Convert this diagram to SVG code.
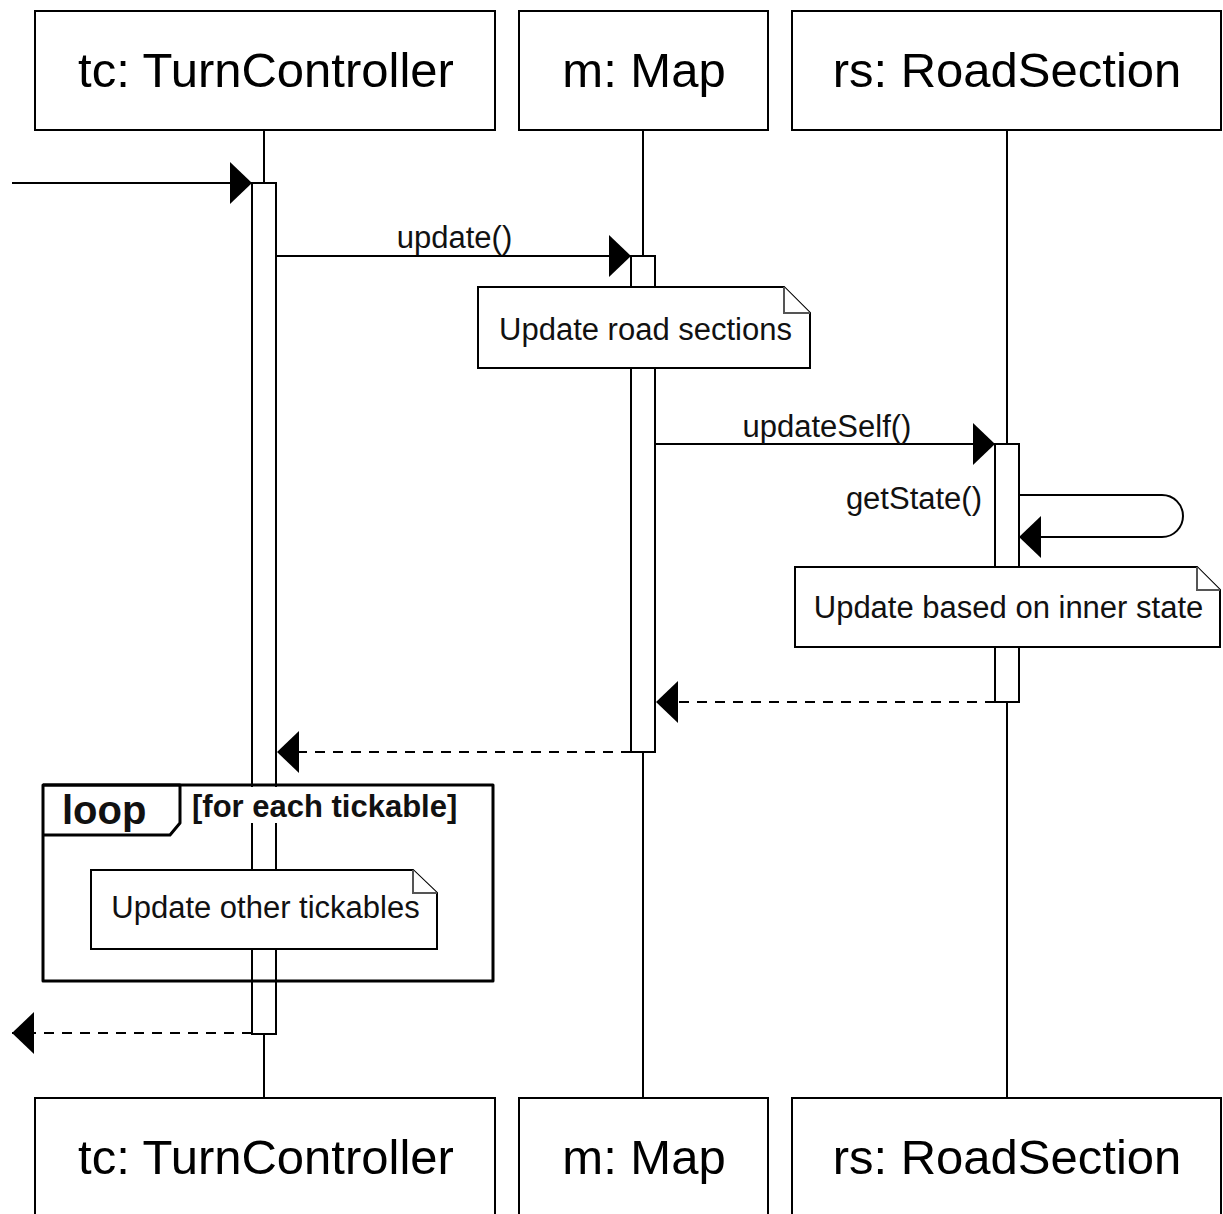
<svg xmlns="http://www.w3.org/2000/svg" width="1223" height="1214" viewBox="0 0 1223 1214">
<defs>
<style>
.box{fill:#fff;stroke:#000;stroke-width:2}
.life{stroke:#000;stroke-width:2;fill:none}
.act{fill:#fff;stroke:#000;stroke-width:2}
.note{fill:#fff;stroke:#000;stroke-width:2}
.fold{fill:#fff;stroke:#555;stroke-width:2}
.title{font-family:"Liberation Sans",Arial,sans-serif;font-size:49px;text-anchor:middle;fill:#000}
.lbl{font-family:"Liberation Sans",Arial,sans-serif;font-size:31px;fill:#111}
.mid{text-anchor:middle}
.bold{font-weight:bold}
.big{font-size:40px}
.msg{stroke:#000;stroke-width:2;fill:none}
.ret{stroke:#000;stroke-width:2;fill:none;stroke-dasharray:10 8}
.frame{fill:none;stroke:#000;stroke-width:3;stroke-linejoin:round}
</style>
<marker id="arrow" markerUnits="userSpaceOnUse" markerWidth="22" markerHeight="42" refX="22" refY="21" orient="auto" overflow="visible">
<path d="M0,0 L22,21 L0,42 Z" fill="#000" stroke="none"/>
</marker>
</defs>
<rect x="0" y="0" width="1223" height="1214" fill="#fff"/>

<g id="lifeline-tc">
<line class="life" x1="264" y1="130" x2="264" y2="1098"/>
<rect class="box" x="35" y="11" width="460" height="119"/>
<text class="title" x="266" y="87">tc: TurnController</text>
<rect class="box" x="35" y="1098" width="460" height="119"/>
<text class="title" x="266" y="1174">tc: TurnController</text>
</g>
<g id="lifeline-m">
<line class="life" x1="643" y1="130" x2="643" y2="1098"/>
<rect class="box" x="519" y="11" width="249" height="119"/>
<text class="title" x="644" y="87">m: Map</text>
<rect class="box" x="519" y="1098" width="249" height="119"/>
<text class="title" x="644" y="1174">m: Map</text>
</g>
<g id="lifeline-rs">
<line class="life" x1="1007" y1="130" x2="1007" y2="1098"/>
<rect class="box" x="792" y="11" width="429" height="119"/>
<text class="title" x="1007" y="87">rs: RoadSection</text>
<rect class="box" x="792" y="1098" width="429" height="119"/>
<text class="title" x="1007" y="1174">rs: RoadSection</text>
</g>

<g id="activation-tc"><rect class="act" x="252" y="183" width="24" height="851"/></g>
<g id="activation-m"><rect class="act" x="631" y="256" width="24" height="496"/></g>
<g id="activation-rs"><rect class="act" x="995" y="444" width="24" height="258"/></g>

<g id="connectors">
<path class="msg" d="M12,183 H252" marker-end="url(#arrow)"/>
<path class="msg" d="M276,256 H631" marker-end="url(#arrow)"/>
<text class="lbl mid" x="454.5" y="248">update()</text>
<path class="msg" d="M655,444 H995" marker-end="url(#arrow)"/>
<text class="lbl mid" x="827" y="437">updateSelf()</text>
<path class="msg" d="M1019,495 H1162 A21,21 0 0 1 1162,537 H1019" marker-end="url(#arrow)"/>
<text class="lbl" x="982" y="509" text-anchor="end">getState()</text>
<path class="ret" d="M995,702 H656" marker-end="url(#arrow)"/>
<path class="ret" d="M631,752 H277" marker-end="url(#arrow)"/>
<path class="ret" d="M252,1033 H12" marker-end="url(#arrow)"/>
</g>

<g id="note-road">
<path class="note" d="M478,287 H784 L810,313 V368 H478 Z"/>
<path class="fold" d="M784,287 V313 H810"/>
<text class="lbl mid" x="645.5" y="340">Update road sections</text>
</g>
<g id="note-inner">
<path class="note" d="M795,567 H1197 L1220,590 V647 H795 Z"/>
<path class="fold" d="M1197,567 V590 H1220"/>
<text class="lbl mid" x="1008.5" y="618">Update based on inner state</text>
</g>

<g id="loop-frame">
<rect x="188" y="787" width="272" height="36" fill="#fff"/>
<rect class="frame" x="43" y="785" width="450" height="196"/>
<path class="frame" d="M43,785 H180 V823 L170,835 H43"/>
<text class="lbl bold big" x="62" y="824">loop</text>
<text class="lbl bold" x="192" y="817">[for each tickable]</text>
</g>
<g id="note-other">
<path class="note" d="M91,870 H413 L437,893 V949 H91 Z"/>
<path class="fold" d="M413,870 V893 H437"/>
<text class="lbl mid" x="265.5" y="918">Update other tickables</text>
</g>
</svg>
